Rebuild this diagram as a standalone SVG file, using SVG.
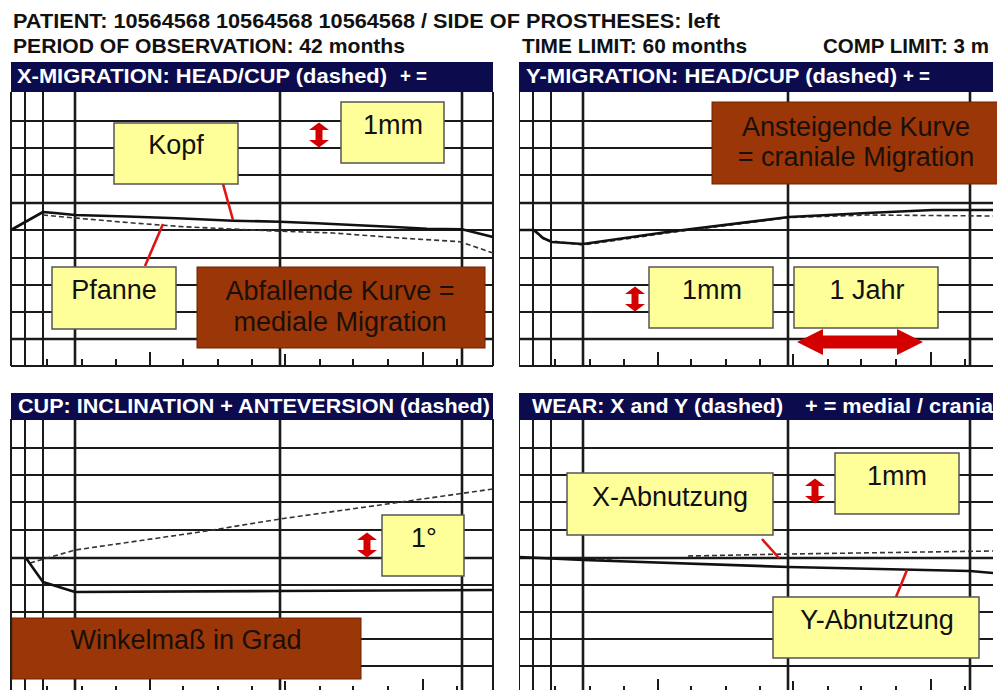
<svg xmlns="http://www.w3.org/2000/svg" width="997" height="690" viewBox="0 0 997 690">
<style>
  .hdr { font-family: "Liberation Sans", Arial, sans-serif; font-weight: bold; font-size: 20.5px; fill: #111; }
  .ttl { font-family: "Liberation Sans", Arial, sans-serif; font-weight: bold; font-size: 20px; fill: #fff; }
  .bar { fill: #0b0b4e; }
  .g { stroke: #1a1a1a; stroke-width: 2; fill: none; }
  .gt { stroke: #1a1a1a; stroke-width: 2.6; fill: none; }
  .solid { stroke: #111; stroke-width: 2.6; fill: none; stroke-linejoin: round; }
  .dash { stroke: #333; stroke-width: 1.6; fill: none; stroke-dasharray: 5 3; }
  .ybox { fill: #ffff99; stroke: #555; stroke-width: 1.5; }
  .bbox { fill: #9a3608; stroke: #6e2400; stroke-width: 1; }
  .lbl { font-family: "Liberation Sans", Arial, sans-serif; font-size: 27px; fill: #111; text-anchor: middle; }
  .blbl { font-family: "Liberation Sans", Arial, sans-serif; font-size: 27px; fill: #1a1008; text-anchor: middle; }
  .lead { stroke: #dd1515; stroke-width: 2.6; fill: none; }
  .arr { fill: #d40000; }
</style>
<defs>
  <path id="vArrow" class="arr" d="M0,-12.5 L10,-5 L3.5,-5 L3.5,5 L10,5 L0,12.5 L-10,5 L-3.5,5 L-3.5,-5 L-10,-5 Z"/>
  <clipPath id="clipR"><rect x="519" y="0" width="474" height="690"/></clipPath>
</defs>

<g id="header">
  <text class="hdr" x="13" y="28" textLength="707" lengthAdjust="spacingAndGlyphs">PATIENT: 10564568 10564568 10564568 / SIDE OF PROSTHESES: left</text>
  <text class="hdr" x="13" y="53" textLength="392" lengthAdjust="spacingAndGlyphs">PERIOD OF OBSERVATION: 42 months</text>
  <text class="hdr" x="522" y="53" textLength="225" lengthAdjust="spacingAndGlyphs">TIME LIMIT: 60 months</text>
  <text class="hdr" x="823" y="53">COMP LIMIT: 3 m</text>
</g>

<g id="panel-xmig">
  <rect class="bar" x="11" y="62" width="482" height="30"/>
  <text class="ttl" x="17" y="83" textLength="370" lengthAdjust="spacingAndGlyphs">X-MIGRATION: HEAD/CUP (dashed)</text>
  <text class="ttl" x="400" y="83" textLength="27" lengthAdjust="spacingAndGlyphs">+ =</text>
  <path class="g" d="M11,121L493,121 M11,148L493,148 M11,175L493,175 M11,230L493,230 M11,258L493,258 M11,285L493,285 M11,312L493,312 M11,366L493,366"/>
  <path class="gt" d="M11,203L493,203 M11,339L493,339"/>
  <path class="g" d="M11,92L11,366 M25,92L25,366 M43,92L43,366 M493,92L493,366"/>
  <path class="gt" d="M75,92L75,366 M280,92L280,366 M462,92L462,366"/>
  <path class="g" d="M47,359L47,366 M82,359L82,366 M116,359L116,366 M150,352L150,366 M183,359L183,366 M218,359L218,366 M252,359L252,366 M285,354L285,366 M320,359L320,366 M353,359L353,366 M388,359L388,366 M423,352L423,366 M457,359L457,366"/>
  <path class="dash" d="M43,215 L75,218 L133,223 L183,226.7 L233,229 L267,230.7 L333,233 L400,238 L460,241.7 L493,253"/>
  <path class="solid" d="M11,230 L43,212 L55,213 L75,215 L127,216.5 L177,218.3 L233,220.7 L280,221.7 L317,223.3 L353,225 L390,226.7 L427,228.8 L462,229.3 L493,237"/>
</g>

<g id="panel-ymig" clip-path="url(#clipR)">
  <rect class="bar" x="519" y="62" width="474" height="30"/>
  <text class="ttl" x="526" y="83" textLength="371" lengthAdjust="spacingAndGlyphs">Y-MIGRATION: HEAD/CUP (dashed)</text>
  <text class="ttl" x="903" y="83" textLength="27" lengthAdjust="spacingAndGlyphs">+ =</text>
  <path class="g" d="M519,121L1001,121 M519,148L1001,148 M519,175L1001,175 M519,230L1001,230 M519,258L1001,258 M519,285L1001,285 M519,312L1001,312 M519,366L1001,366"/>
  <path class="gt" d="M519,203L1001,203 M519,339L1001,339"/>
  <path class="g" d="M519,92L519,366 M533,92L533,366 M551,92L551,366"/>
  <path class="gt" d="M583,92L583,366 M788,92L788,366 M970,92L970,366"/>
  <path class="g" d="M555,359L555,366 M590,359L590,366 M624,359L624,366 M658,352L658,366 M691,359L691,366 M726,359L726,366 M760,359L760,366 M793,354L793,366 M828,359L828,366 M861,359L861,366 M896,359L896,366 M931,352L931,366 M965,359L965,366"/>
  <path class="dash" d="M534,231 L545,240 L583,245 L667,233 L789,217.5 L867,215 L993,216"/>
  <path class="solid" d="M519,230 L534,230 L543,238 L552,242 L583,244 L667,232 L789,217 L867,213 L933,210 L993,210"/>
</g>

<g id="panel-cup">
  <rect class="bar" x="11" y="393" width="482" height="27"/>
  <text class="ttl" x="18" y="413" textLength="472" lengthAdjust="spacingAndGlyphs">CUP: INCLINATION + ANTEVERSION (dashed)</text>
  <path class="g" d="M11,448L493,448 M11,475L493,475 M11,502L493,502 M11,530L493,530 M11,585L493,585 M11,612L493,612 M11,639L493,639 M11,666L493,666 M11,693L493,693"/>
  <path class="gt" d="M11,558L493,558"/>
  <path class="g" d="M11,419L11,693 M25,419L25,693 M43,419L43,693 M493,419L493,693"/>
  <path class="gt" d="M75,419L75,693 M280,419L280,693 M462,419L462,693"/>
  <path class="g" d="M47,686L47,693 M82,686L82,693 M116,686L116,693 M150,679L150,693 M183,686L183,693 M218,686L218,693 M252,686L252,693 M285,681L285,693 M320,686L320,693 M353,686L353,693 M388,686L388,693 M423,679L423,693 M457,686L457,693"/>
  <path class="dash" d="M30,563 L75,550 L200,532 L280,519 L387,504 L493,489"/>
  <path class="solid" d="M26,558 L33,568 L43,582 L75,592 L280,591 L493,590"/>
</g>

<g id="panel-wear" clip-path="url(#clipR)">
  <rect class="bar" x="519" y="393" width="474" height="27"/>
  <text class="ttl" x="532" y="413" textLength="251" lengthAdjust="spacingAndGlyphs">WEAR: X and Y (dashed)</text>
  <text class="ttl" x="805" y="413" textLength="188" lengthAdjust="spacingAndGlyphs">+ = medial / crania</text>
  <path class="g" d="M519,448L1001,448 M519,475L1001,475 M519,502L1001,502 M519,530L1001,530 M519,585L1001,585 M519,612L1001,612 M519,639L1001,639 M519,666L1001,666 M519,693L1001,693"/>
  <path class="gt" d="M519,558L1001,558"/>
  <path class="g" d="M519,419L519,693 M533,419L533,693 M551,419L551,693"/>
  <path class="gt" d="M583,419L583,693 M788,419L788,693 M970,419L970,693"/>
  <path class="g" d="M555,686L555,693 M590,686L590,693 M624,686L624,693 M658,679L658,693 M691,686L691,693 M726,686L726,693 M760,686L760,693 M793,681L793,693 M828,686L828,693 M861,686L861,693 M896,686L896,693 M931,679L931,693 M965,686L965,693"/>
  <path class="dash" d="M583,560 L612,560 M688,556 L789,554 L993,551"/>
  <path class="solid" d="M519,557 L583,560 L789,567 L970,571 L993,573"/>
</g>

<g id="connectors">
  <path class="lead" d="M223,184 L233,220"/>
  <path class="lead" d="M145,266 L163,224"/>
  <path class="lead" d="M762,539 L779,558"/>
  <path class="lead" d="M896,597 L907,570"/>
</g>

<g id="scale-arrows">
  <use href="#vArrow" transform="translate(319,135)"/>
  <use href="#vArrow" transform="translate(635,299)"/>
  <use href="#vArrow" transform="translate(367,545)"/>
  <use href="#vArrow" transform="translate(815,491)"/>
  <path class="arr" d="M797,342 L823,329 L823,335.5 L897,335.5 L897,329 L923,342 L897,355 L897,348.5 L823,348.5 L823,355 Z"/>
</g>

<g id="node-kopf">
  <rect class="ybox" x="114" y="123" width="124" height="61"/>
  <text class="lbl" x="176" y="154">Kopf</text>
</g>
<g id="node-1mm-x">
  <rect class="ybox" x="341" y="102" width="103" height="61"/>
  <text class="lbl" x="393" y="134">1mm</text>
</g>
<g id="node-pfanne">
  <rect class="ybox" x="52" y="267" width="124" height="62"/>
  <text class="lbl" x="114" y="299">Pfanne</text>
</g>
<g id="node-abfallend">
  <rect class="bbox" x="197" y="267" width="288" height="81"/>
  <text class="blbl" x="340" y="300">Abfallende Kurve =</text>
  <text class="blbl" x="340" y="331">mediale Migration</text>
</g>
<g id="node-ansteigend">
  <rect class="bbox" x="712" y="102" width="290" height="82"/>
  <text class="blbl" x="856" y="136">Ansteigende Kurve</text>
  <text class="blbl" x="856" y="166">= craniale Migration</text>
</g>
<g id="node-1mm-y">
  <rect class="ybox" x="649" y="267" width="124" height="61"/>
  <text class="lbl" x="712" y="299">1mm</text>
</g>
<g id="node-1jahr">
  <rect class="ybox" x="794" y="267" width="144" height="61"/>
  <text class="lbl" x="867" y="299">1 Jahr</text>
</g>
<g id="node-1deg">
  <rect class="ybox" x="382" y="515" width="82" height="61"/>
  <text class="lbl" x="424" y="547">1°</text>
</g>
<g id="node-winkel">
  <rect class="bbox" x="12" y="618" width="349" height="61"/>
  <text class="blbl" x="186" y="649">Winkelmaß in Grad</text>
</g>
<g id="node-xabn">
  <rect class="ybox" x="567" y="473" width="206" height="62"/>
  <text class="lbl" x="670" y="506">X-Abnutzung</text>
</g>
<g id="node-1mm-w">
  <rect class="ybox" x="835" y="453" width="124" height="61"/>
  <text class="lbl" x="897" y="485">1mm</text>
</g>
<g id="node-yabn">
  <rect class="ybox" x="773" y="597" width="206" height="61"/>
  <text class="lbl" x="877" y="629">Y-Abnutzung</text>
</g>
</svg>
